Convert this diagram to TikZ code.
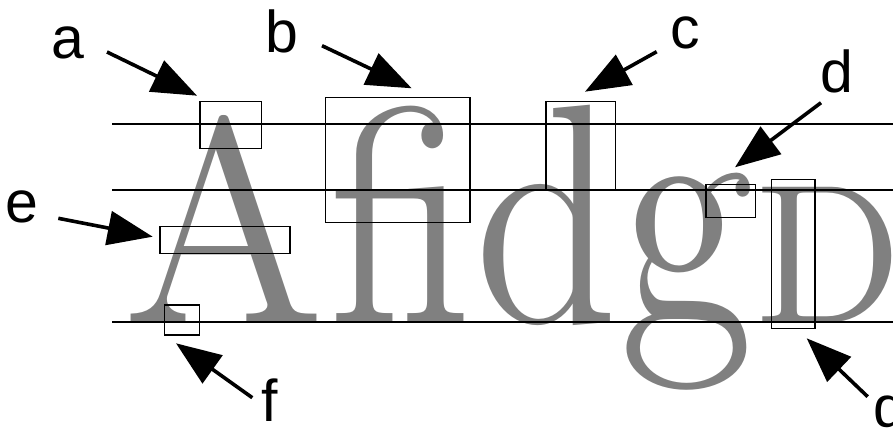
\documentclass[tikz,border=0pt]{standalone}
\usepackage{fontspec}
\newfontfamily\labelfont{Liberation Sans}
\newfontfamily\glyphfont{lmroman12-regular.otf}
\usetikzlibrary{arrows.meta}
\definecolor{glyphgray}{RGB}{128,128,128}
\tikzset{
  guide/.style={line width=1.8pt, black},
  framebox/.style={draw=black, line width=1.4pt},
  pointer/.style={line width=3.6pt, -{Triangle[length=45pt,width=34pt]}},
  lbl/.style={font=\labelfont\fontsize{59}{59}\selectfont, inner sep=0pt, anchor=base},
  glyph/.style={text=glyphgray, inner sep=0pt, anchor=base west, font=\glyphfont\fontsize{290}{290}\selectfont},
}
\begin{document}
\begin{tikzpicture}[x=1pt,y=-1pt]
\useasboundingbox (0,0) rectangle (893,430);
% letters
\node[glyph] (gA) at (122,322) {\scalebox{0.955}[1]{A}};
\node[glyph] (gfi) at (329,322) {\scalebox{0.9}[1.06]{fi}};
\node[glyph] (gd) at (474,322) {\scalebox{0.91}[1.08]{d}};
\node[glyph] (gg) at (619,322) {\scalebox{0.95}[1.14]{g}};
\node[glyph, font=\glyphfont\fontsize{198}{198}\selectfont] (gD) at (754,322) {D};
% guide lines
\coordinate (t0) at (112,124); \coordinate (t1) at (893,124);
\coordinate (m0) at (112,190); \coordinate (m1) at (893,190);
\coordinate (b0) at (112,322); \coordinate (b1) at (893,322);
\draw[guide] (t0) -- (t1);
\draw[guide] (m0) -- (m1);
\draw[guide] (b0) -- (b1);
% boxes
\draw[framebox] (200,101.7) rectangle (261.7,148.7);
\draw[framebox] (325.7,97.3) rectangle (470,222.3);
\draw[framebox] (546,101.7) rectangle (615.3,190);
\draw[framebox] (706,184.3) rectangle (755.3,217.7);
\draw[framebox] (160,226.7) rectangle (290,253.7);
\draw[framebox] (164.3,305) rectangle (199.3,335);
\draw[framebox] (771.7,179.3) rectangle (815,328.7);
% labels
\node[lbl] (la) at (67.5,59) {a};
\node[lbl] (lb) at (281.7,52.3) {b};
\node[lbl] (lc) at (685,49) {c};
\node[lbl] (ld) at (837,92.7) {d};
\node[lbl] (le) at (21.7,222.7) {e};
\node[lbl] (lf) at (270,421.7) {f};
\node[lbl, anchor=base west] (lg) at (873,427) {g};
% arrow ends
\coordinate (sa) at (107,52);     \coordinate (ta) at (197,95.7);
\coordinate (sb) at (322,45.7);   \coordinate (tb) at (411.7,88.3);
\coordinate (sc) at (656.7,51.7); \coordinate (tc) at (585,91.7);
\coordinate (sd) at (821,102.7);  \coordinate (td) at (735,167.3);
\coordinate (se) at (58.3,218.3); \coordinate (te) at (152.7,236.7);
\coordinate (sf) at (252.3,397.7);\coordinate (tf) at (176,343.3);
\coordinate (sg) at (867.7,396.7);\coordinate (tg) at (806.7,338.3);
\draw[pointer] (sa) -- (ta);
\draw[pointer] (sb) -- (tb);
\draw[pointer] (sc) -- (tc);
\draw[pointer] (sd) -- (td);
\draw[pointer] (se) -- (te);
\draw[pointer] (sf) -- (tf);
\draw[pointer] (sg) -- (tg);
\end{tikzpicture}
\end{document}
